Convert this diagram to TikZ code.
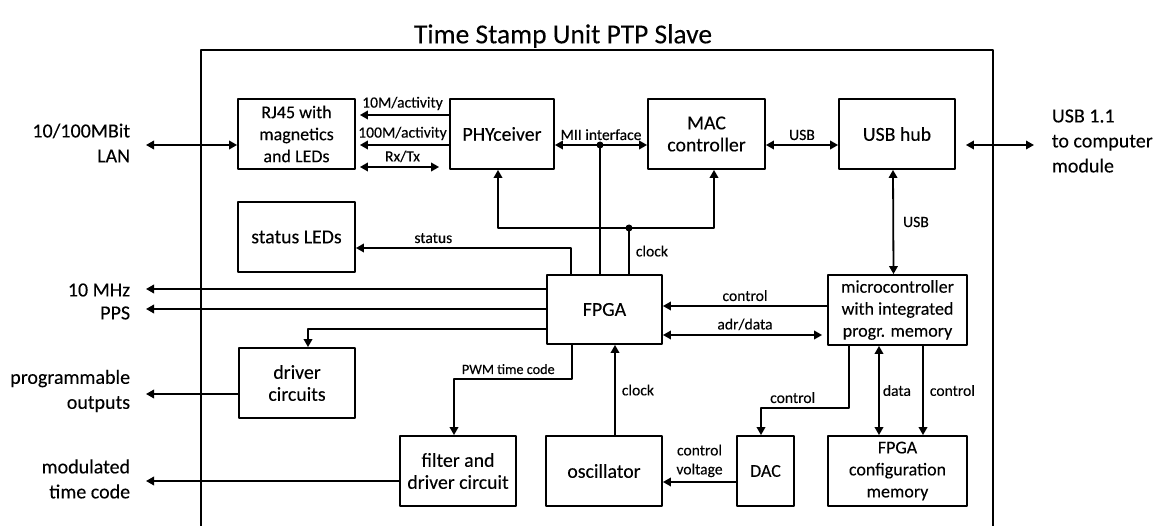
\documentclass[tikz,border=0pt]{standalone}
\usepackage{fontspec}
\setmainfont{Carlito}[FakeBold=0.15]
\usetikzlibrary{arrows.meta}

\tikzset{
  blk/.style={draw,inner sep=0pt,align=center,font=\fontsize{19.8}{22}\selectfont},
  sblk/.style={blk,font=\fontsize{18}{22}\selectfont},
  lbl/.style={inner sep=1pt,align=center,font=\fontsize{15.6}{19}\selectfont},
  ext/.style={inner sep=0pt,font=\fontsize{20}{25}\selectfont},
  dot/.style={fill=black}
}

\begin{document}
\begin{tikzpicture}[x=1pt,y=-1pt,line join=round,line width=1.8pt,>={Triangle[length=8pt,width=8.5pt]}]
\useasboundingbox (0,0) rectangle (1159,526);
% frame and title
\draw (201,526) |- (993,50) -- (993,526);
\node[inner sep=0pt,font=\fontsize{27.5}{30}\selectfont] (title) at (563,36) {Time Stamp Unit PTP Slave};
% blocks
\node[sblk,minimum width=117pt,minimum height=70pt] (rj) at (296.5,134) {RJ45 with\\magnetics\\and LEDs};
\node[blk,minimum width=104pt,minimum height=70pt] (phy) at (502,134) {PHYceiver};
\node[blk,minimum width=117pt,minimum height=70pt] (mac) at (706.5,134) {MAC\\controller};
\node[blk,minimum width=116pt,minimum height=70pt] (hub) at (897,134) {USB hub};
\node[blk,minimum width=117pt,minimum height=70pt] (leds) at (296.5,237) {status LEDs};
\node[blk,minimum width=115pt,minimum height=69pt] (fpga) at (604.5,309.5) {FPGA};
\node[sblk,minimum width=139pt,minimum height=70pt] (mcu) at (897.5,310) {microcontroller\\with integrated\\progr. memory};
\node[blk,minimum width=116pt,minimum height=70pt] (drv) at (297,383) {driver\\circuits};
\node[blk,minimum width=116pt,minimum height=70pt] (filt) at (458,471) {filter and\\driver circuit};
\node[blk,minimum width=116pt,minimum height=70pt] (osc) at (604,471) {oscillator};
\node[sblk,minimum width=57pt,minimum height=70pt] (dac) at (765.5,471) {DAC};
\node[sblk,minimum width=139pt,minimum height=70pt] (cfg) at (897.5,471) {FPGA\\configuration\\memory};
% outside ends and bends
\path
(146,145) coordinate (lan)
(146,289) coordinate (mhz)
(146,309) coordinate (pps)
(146,394) coordinate (prog)
(146,481) coordinate (modc)
(1034,145) coordinate (usbx)
(600,145) coordinate (mii)
(629,228) coordinate (clk)
(454,379) coordinate (pwm)
(761,408) coordinate (dacc)
;
\node[ext,anchor=east,align=right] (lanl) at (131,143) {10/100MBit\\LAN};
\node[ext,anchor=east] (mhzl) at (131,290) {10 MHz};
\node[ext,anchor=east] (ppsl) at (131,313) {PPS};
\node[ext,anchor=east,align=right] (progl) at (131,391) {programmable\\outputs};
\node[ext,anchor=east,align=right] (modl) at (131,479) {modulated\\time code};
\node[ext,anchor=west,align=left] (usbl) at (1051,141) {USB 1.1\\to computer\\module};
% network side
\draw[<->] (lan) -- (rj.west |- lan);
\draw[->,shorten >=4pt] (phy.west |- 0,115) -- (rj.east |- 0,115) node[lbl,midway,above=3pt] {10M/activity};
\draw[->,shorten >=4pt] (phy.west |- 0,145) -- (rj.east |- 0,145) node[lbl,midway,above=3pt] {100M/activity};
\draw[<->,shorten <=4pt,shorten >=10pt] (rj.east |- 0,167) -- (phy.west |- 0,167) node[lbl,midway,above=3pt] {Rx/Tx};
\draw[<->] (phy.east |- mii) -- (mac.west |- mii) node[lbl,midway,above=3pt] {MII interface};
\fill[dot] (mii) circle (3.5pt);
\draw (mii) -- (mii |- fpga.north);
\draw[<->] (mac.east |- 0,145) -- (hub.west |- 0,145) node[lbl,midway,above=3pt] {USB};
\draw[<->,shorten <=10pt] (hub.east |- usbx) -- (usbx);
\draw[<->] ([xshift=-4pt]hub.south) -- ([xshift=-4pt]mcu.north) node[lbl,midway,right=8pt] {USB};
% clock to PHY and MAC
\draw (clk |- fpga.north) -- (clk) node[lbl,midway,right=5pt] {clock};
\fill[dot] (clk) circle (3.5pt);
\draw[->] (clk) -| ([xshift=-4pt]phy.south);
\draw[->] (clk) -| ([xshift=7.5pt]mac.south);
\draw[->] ([xshift=-33.5pt]fpga.north) |- (leds.east |- 0,248) node[lbl,pos=0.82,above=3pt] {status};
% FPGA outputs
\draw[->] (fpga.west |- mhz) -- (mhz);
\draw[->] (fpga.west |- pps) -- (pps);
\draw[->] (fpga.west |- 0,329) -| ([xshift=11pt]drv.north);
\draw[->] (drv.west |- prog) -- (prog);
\draw[->] ([xshift=-32.5pt]fpga.south) |- (pwm) node[lbl,pos=0.77,above=3pt,font=\fontsize{14.2}{17}\selectfont] {PWM time code} -- (pwm |- filt.north);
\draw[->] (filt.west |- modc) -- (modc);
% timing and control
\draw[->] ([xshift=11pt]osc.north) -- ([xshift=10.5pt]fpga.south) node[lbl,midway,right=5pt] {clock};
\draw[->] (dac.west |- 0,482) -- (osc.east |- 0,482) node[lbl,midway,above=3pt] {control\\voltage};
\draw[->] (mcu.west |- 0,306) -- (fpga.east |- 0,306) node[lbl,midway,above=3pt] {control};
\draw[<->,shorten >=5pt] (fpga.east |- 0,335) -- (mcu.west |- 0,335) node[lbl,midway,above=3pt] {adr/data};
\draw[->] ([xshift=-48.5pt]mcu.south) |- (dacc) node[lbl,pos=0.82,above=3pt] {control} -- (dacc |- dac.north);
\draw[<->] ([xshift=-18.5pt]mcu.south) -- ([xshift=-18.5pt]cfg.north) node[lbl,midway,right=2pt] {data};
\draw[->] ([xshift=25.5pt]mcu.south) -- ([xshift=25.5pt]cfg.north) node[lbl,midway,right=5pt] {control};
\end{tikzpicture}
\end{document}
